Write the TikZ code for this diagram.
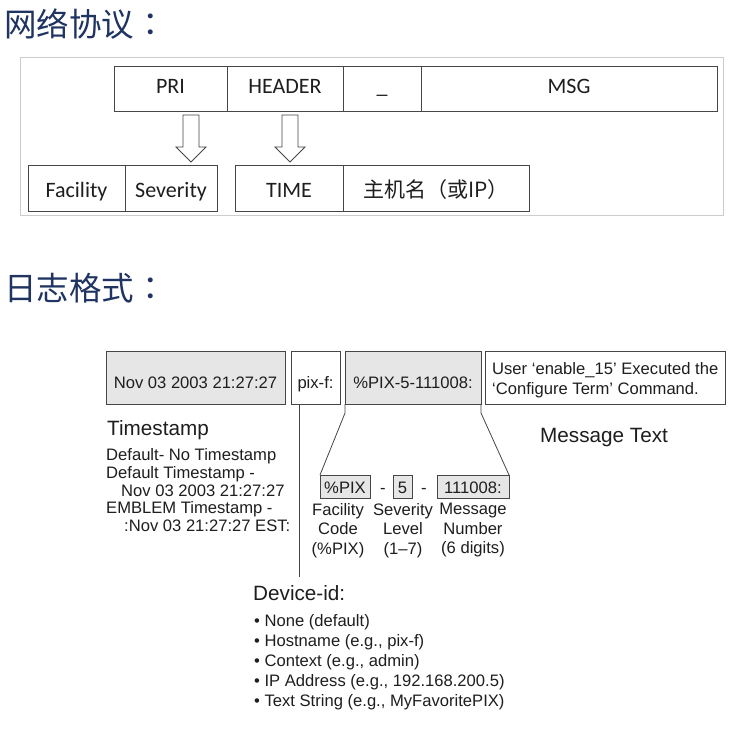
\documentclass[tikz,border=0pt]{standalone}
\usepackage{fontspec}
\setmainfont{Liberation Sans}
\newfontfamily\cjk{Noto Sans CJK SC}
\newfontfamily\cjktc{Noto Sans CJK TC}
\newfontfamily\calfont{Carlito}
\definecolor{titleblue}{RGB}{32,52,98}
\definecolor{boxgray}{RGB}{230,230,230}
\definecolor{linegray}{RGB}{70,70,70}
\definecolor{txt}{RGB}{30,30,30}
\begin{document}
\begin{tikzpicture}[x=1pt,y=-1pt,
  title/.style={font=\cjk\fontsize{32.5}{36}\selectfont, text=titleblue, anchor=west, inner sep=0pt},
  pbox/.style={draw=linegray, line width=0.9pt, inner sep=0pt, outer sep=0pt,
    font=\calfont\fontsize{22}{26}\selectfont, text=txt},
  toprow/.style={pbox, minimum height=45pt, text height=14pt, text depth=3pt},
  botrow/.style={pbox, minimum height=46pt, text height=18pt, text depth=0pt},
  harrow/.style={draw=linegray, line width=0.9pt, fill=white},
  lbox/.style={draw=linegray, line width=0.8pt, inner sep=0pt, outer sep=0pt,
    font=\fontsize{16.6}{20}\selectfont, text=txt},
  gbox/.style={lbox, fill=boxgray},
  small/.style={font=\fontsize{16.6}{20}\selectfont, text=txt, inner sep=0pt},
  big/.style={font=\fontsize{20.7}{24}\selectfont, text=txt, inner sep=0pt},
  conn/.style={draw=linegray, line width=0.8pt},
  lab/.style={small, align=center, font=\fontsize{16.6}{19.5}\selectfont}
]
\useasboundingbox (0,0) rectangle (751,730);
\fill[white] (0,0) rectangle (751,730);

% ---------- titles ----------
\node[title] (t1) at (4,24) {网络协议{\cjktc ：}};
\node[title] (t2) at (4,288) {日志格式{\cjktc ：}};

% ---------- protocol panel ----------
\draw[draw=black!20, line width=0.8pt] (20,57) rectangle (723,215);

\node[toprow, minimum width=113pt] (pri) at (170.5,88.5) {PRI};
\node[toprow, minimum width=116pt] (hdr) at (285,88.5) {HEADER};
\node[toprow, minimum width=78pt] (us) at (382,88.5) {\_};
\node[toprow, minimum width=296pt] (msg) at (569,88.5) {MSG};

\node[botrow, minimum width=97pt] (fac) at (76.5,188) {Facility};
\node[botrow, minimum width=92pt] (sev) at (171,188) {Severity};
\node[botrow, minimum width=108pt] (time) at (289,188) {TIME};
\node[botrow, minimum width=186pt] (host) at (436,188) {\cjk\fontsize{21}{26}\selectfont 主机名（或IP）};

\coordinate (a1) at (191,115);
\coordinate (a2) at (290,115);
\foreach \a in {a1,a2}{
  \draw[harrow, shift={(\a)}] (-8,0) -- (8,0) -- (8,32) -- (15,32) -- (0,47)
     -- (-15,32) -- (-8,32) -- cycle;
}

% ---------- log format ----------
\node[gbox, minimum width=179pt, minimum height=53pt] (ts) at (195.5,377.5) {};
\node[small, anchor=base] at (195.5,388) {Nov 03 2003 21:27:27};
\node[lbox, fill=white, minimum width=49pt, minimum height=53pt] (pixf) at (315.5,377.5) {};
\node[small, anchor=base] at (315.5,388) {pix-f:};
\node[gbox, minimum width=136pt, minimum height=53pt] (code) at (413,377.5) {};
\node[small, anchor=base] at (413,388) {\%PIX-5-111008:};
\node[lbox, fill=white, minimum width=240pt, minimum height=53pt] (mt) at (605,377.5) {};
\node[small, anchor=base west] at (492,374) {User ‘enable\_15’ Executed the};
\node[small, anchor=base west] at (492,394) {‘Configure Term’ Command.};

% Timestamp block
\node[big, anchor=base west] (tsh) at (107,435) {Timestamp};
\node[small, anchor=base west] at (106,460) {Default- No Timestamp};
\node[small, anchor=base west] at (106,478) {Default Timestamp -};
\node[small, anchor=base west] at (121,496) {Nov 03 2003 21:27:27};
\node[small, anchor=base west] at (106,513) {EMBLEM Timestamp -};
\node[small, anchor=base west] at (124,531) {:Nov 03 21:27:27 EST:};

\node[big, anchor=base west] (mtext) at (540,442) {Message Text};

% sub boxes
\node[gbox, minimum width=50pt, minimum height=23pt] (fbox) at (345,486.5) {};
\node[small, anchor=base] at (345,493) {\%PIX};
\node[small, anchor=base] (d1) at (383,493) {-};
\node[gbox, minimum width=19pt, minimum height=23pt] (sbox) at (402.5,486.5) {};
\node[small, anchor=base] at (402.5,493) {5};
\node[small, anchor=base] (d2) at (424,493) {-};
\node[gbox, minimum width=72pt, minimum height=23pt] (nbox) at (473,486.5) {};
\node[small, anchor=base] at (473,493) {111008:};

\draw[conn] (code.south west) -- ++(0,9) -- (fbox.north west);
\draw[conn] (code.south east) -- ++(0,9) -- (nbox.north east);

\node[lab, anchor=north] (l1) at (338,503) {Facility\\Code\\(\%PIX)};
\node[lab, anchor=north] (l2) at (403,503) {Severity\\Level\\(1–7)};
\node[lab, anchor=north] (l3) at (473,503) {Message\\Number\\(6 digits)};

% device-id
\coordinate (devtop) at (299,577);
\draw[conn] (pixf.south west -| devtop) -- (devtop);
\node[big, anchor=base west] (dev) at (253,600) {Device-id:};
\node[small, anchor=base west] at (254,626) {• None (default)};
\node[small, anchor=base west] at (254,646) {• Hostname (e.g., pix-f)};
\node[small, anchor=base west] at (254,666) {• Context (e.g., admin)};
\node[small, anchor=base west] at (254,686) {• IP Address (e.g., 192.168.200.5)};
\node[small, anchor=base west] at (254,706) {• Text String (e.g., MyFavoritePIX)};
\end{tikzpicture}
\end{document}
